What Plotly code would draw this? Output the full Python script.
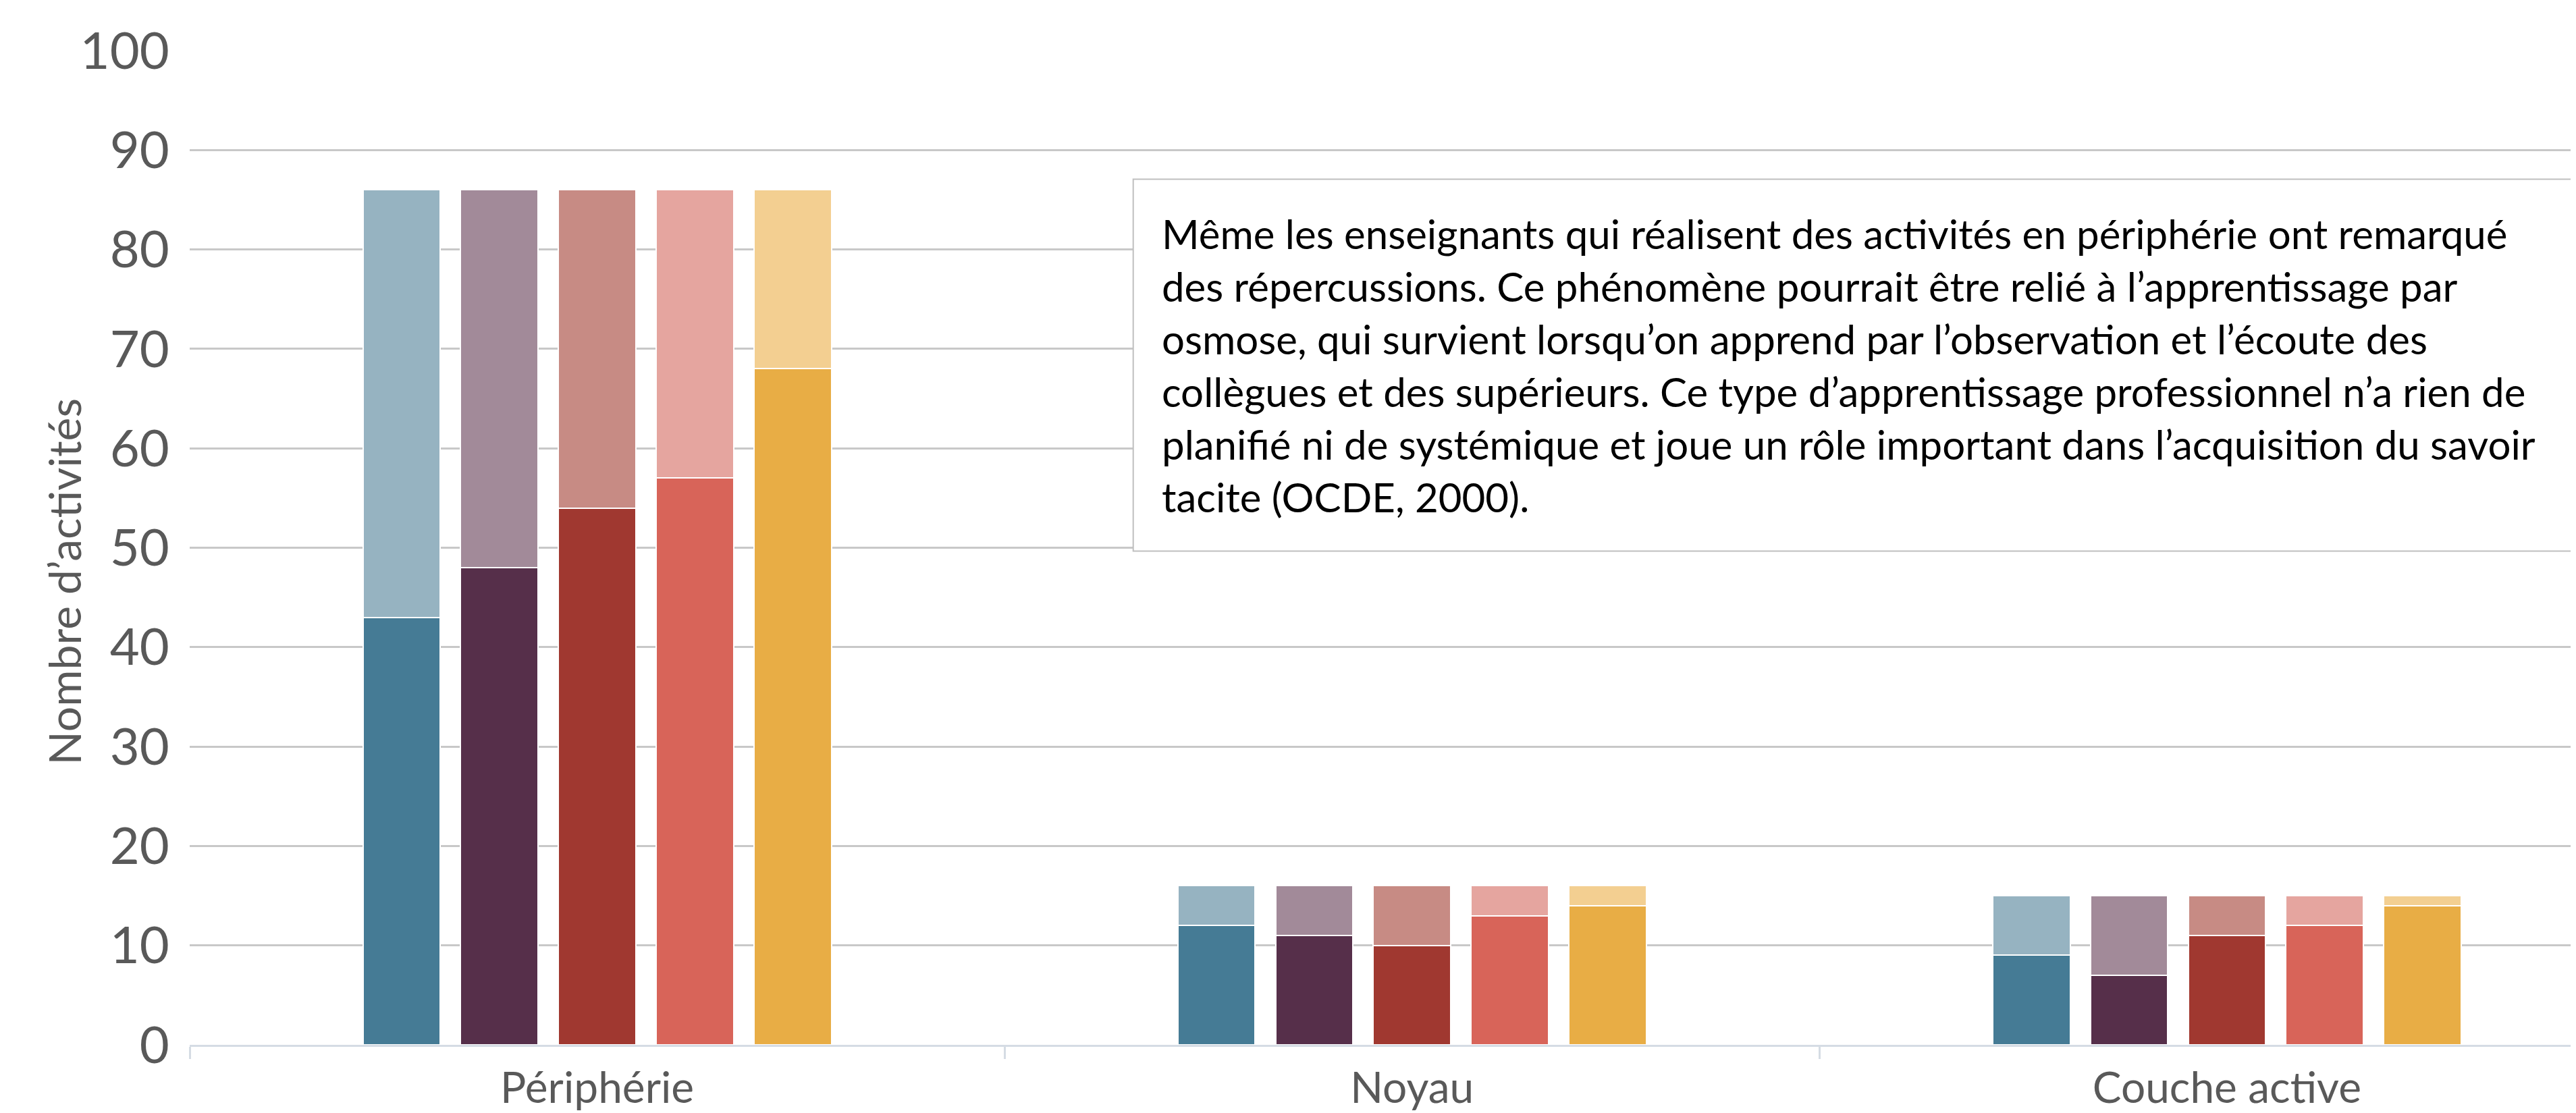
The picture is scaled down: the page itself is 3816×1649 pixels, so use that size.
import plotly.graph_objects as go

# ---------- data ----------
categories = ["Périphérie", "Noyau", "Couche active"]

# lower (dark) segment of each bar, per category
bas_1 = [43, 12, 9]
bas_2 = [48, 11, 7]
bas_3 = [54, 10, 11]
bas_4 = [57, 13, 12]
bas_5 = [68, 14, 14]

# upper (light) segment of each bar, per category
haut_1 = [43, 4, 6]
haut_2 = [38, 5, 8]
haut_3 = [32, 6, 4]
haut_4 = [29, 3, 3]
haut_5 = [18, 2, 1]

y_ticks = [0, 10, 20, 30, 40, 50, 60, 70, 80, 90, 100]

note = (
    "Même les enseignants qui réalisent des activités en périphérie ont remarqué<br>"
    "des répercussions. Ce phénomène pourrait être relié à l’apprentissage par<br>"
    "osmose, qui survient lorsqu’on apprend par l’observation et l’écoute des<br>"
    "collègues et des supérieurs. Ce type d’apprentissage professionnel n’a rien de<br>"
    "planifié ni de systémique et joue un rôle important dans l’acquisition du savoir<br>"
    "tacite (OCDE, 2000)."
)

# ---------- style ----------
_FONT = "Lato, Open Sans, sans-serif"
_GREY_TXT = "#595959"
_GRID = "#C8C8C8"
dark_colors = ["#457B95", "#562F4A", "#A03830", "#D86459", "#E8AD45"]
light_colors = ["#96B3C1", "#A28A99", "#C78B84", "#E5A59F", "#F3CF91"]

bas = [bas_1, bas_2, bas_3, bas_4, bas_5]
haut = [haut_1, haut_2, haut_3, haut_4, haut_5]

PITCH = 0.12   # distance between bars inside a group (category units)
BAR_W = 0.095

fig = go.Figure()
for j in range(5):
    xs = [i + (j - 2) * PITCH for i in range(len(categories))]
    fig.add_trace(go.Bar(
        x=xs, y=bas[j], width=BAR_W,
        marker=dict(color=dark_colors[j], line=dict(color="white", width=2)),
        showlegend=False, name=f"Série {j + 1} (bas)",
    ))
    fig.add_trace(go.Bar(
        x=xs, y=haut[j], width=BAR_W,
        marker=dict(color=light_colors[j], line=dict(color="white", width=2)),
        showlegend=False, name=f"Série {j + 1} (haut)",
    ))

fig.update_layout(
    barmode="stack",
    width=3816, height=1649,
    paper_bgcolor="white", plot_bgcolor="white",
    margin=dict(l=273, r=0, t=67, b=109),
    font=dict(family=_FONT, color=_GREY_TXT),
)

fig.update_xaxes(
    range=[-0.5, 2.435], automargin=False,
    tickvals=list(range(len(categories))), ticktext=categories,
    ticks="outside", ticklen=6, tickcolor="rgba(0,0,0,0)",
    tickfont=dict(size=64, color=_GREY_TXT, family=_FONT),
    showgrid=False, zeroline=False,
    showline=True, linecolor="#D5DCE4", linewidth=3,
    minor=dict(tickvals=[-0.5, 0.5, 1.5], ticks="outside", ticklen=18,
               tickcolor="#D5DCE4", tickwidth=3, showgrid=False),
)
fig.update_yaxes(
    range=[0, 100], tickvals=y_ticks, automargin=False,
    ticks="outside", ticklen=14, tickcolor="rgba(0,0,0,0)",
    tickfont=dict(size=76, color=_GREY_TXT, family=_FONT),
    showgrid=True, gridcolor=_GRID, gridwidth=3, zeroline=False,
)

# y-axis title placed manually
fig.add_annotation(
    text="Nombre d’activités", textangle=-90,
    xref="paper", yref="paper", x=-0.0525, y=0.466,
    xanchor="center", yanchor="middle", showarrow=False,
    font=dict(size=66, color=_GREY_TXT, family=_FONT),
)

# commentary box
fig.add_shape(
    type="rect", xref="paper", yref="paper",
    x0=0.3945, x1=1.02, y0=0.4966, y1=0.8707,
    fillcolor="white", line=dict(color="#BFBFBF", width=2), layer="above",
)
fig.add_annotation(
    text=note, xref="paper", yref="paper", x=0.4058, y=0.842,
    xanchor="left", yanchor="top", align="left", showarrow=False,
    font=dict(size=60, color="#000000", family=_FONT),
)

fig.write_html("out.html")
